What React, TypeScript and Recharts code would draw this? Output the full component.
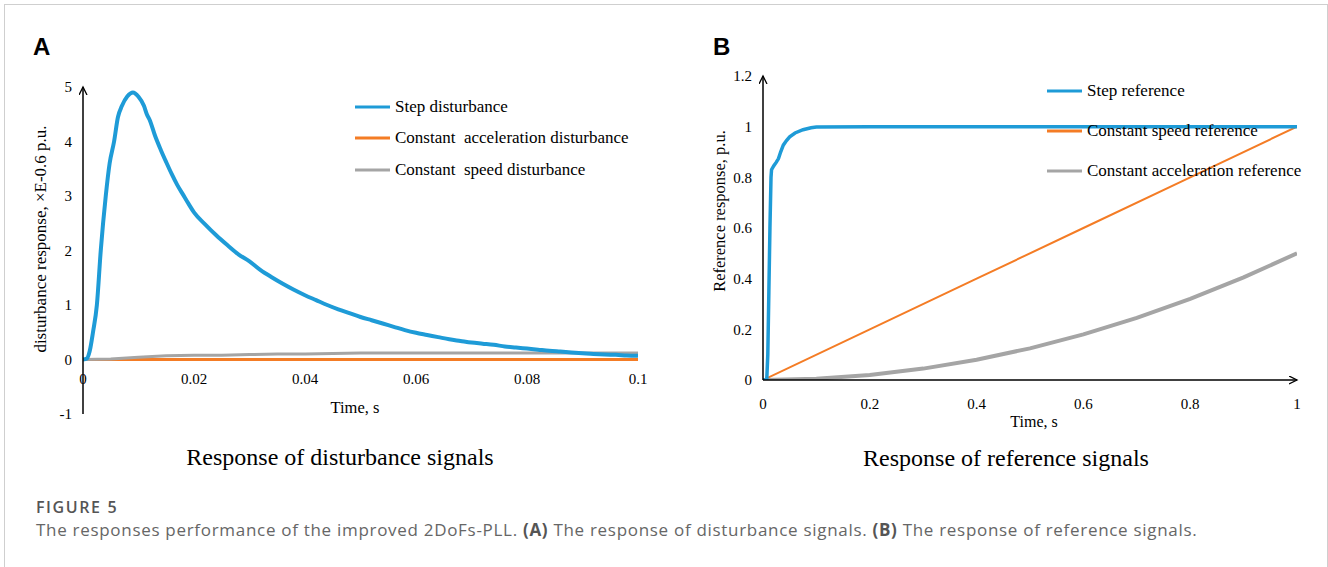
import React from 'react';
import { LineChart, Line, XAxis, YAxis, Legend } from 'recharts';

// Panel A: disturbance responses (x: time in s, y: ×E-0.6 p.u.)
const stepDistTime = [
  0, 0.0007, 0.0012, 0.0018, 0.0025, 0.0032, 0.0041, 0.0048, 0.0056, 0.0063, 0.007, 0.008, 0.009,
  0.01, 0.011, 0.0115, 0.012, 0.013, 0.014, 0.015, 0.016, 0.017, 0.018, 0.019, 0.02,
  0.022, 0.024, 0.026, 0.028, 0.03, 0.032, 0.034, 0.036, 0.038, 0.04, 0.042, 0.044, 0.046, 0.048, 0.05,
  0.052, 0.054, 0.056, 0.058, 0.06, 0.062, 0.064, 0.066, 0.068, 0.07, 0.072, 0.074, 0.076, 0.078, 0.08,
  0.082, 0.084, 0.086, 0.088, 0.09, 0.092, 0.094, 0.096, 0.098, 0.1,
];
const stepDisturbance = [
  0, 0.02, 0.15, 0.5, 1.0, 2.0, 3.0, 3.6, 4.0, 4.45, 4.65, 4.83, 4.9,
  4.82, 4.65, 4.5, 4.4, 4.1, 3.85, 3.62, 3.4, 3.2, 3.03, 2.86, 2.7,
  2.48, 2.28, 2.1, 1.93, 1.8, 1.64, 1.51, 1.39, 1.28, 1.18, 1.09, 1.0, 0.92, 0.85, 0.78,
  0.72, 0.66, 0.6, 0.54, 0.49, 0.45, 0.41, 0.37, 0.34, 0.31, 0.29, 0.27, 0.24, 0.22, 0.2,
  0.18, 0.16, 0.145, 0.13, 0.115, 0.1, 0.09, 0.085, 0.075, 0.07,
];
const accelDistTime = [0, 0.1];
const accelDisturbance = [0, 0];
const speedDistTime = [0, 0.005, 0.01, 0.015, 0.02, 0.025, 0.03, 0.035, 0.04, 0.045, 0.05, 0.06, 0.07, 0.08, 0.09, 0.1];
const speedDisturbance = [0, 0.01, 0.04, 0.07, 0.08, 0.08, 0.09, 0.1, 0.1, 0.11, 0.12, 0.12, 0.12, 0.12, 0.12, 0.12];
const distXTicks = [0, 0.02, 0.04, 0.06, 0.08, 0.1];
const distYTicks = [-1, 0, 1, 2, 3, 4, 5];
const distLegendOrder = ['Step disturbance', 'Constant  acceleration disturbance', 'Constant  speed disturbance'];

// Panel B: reference responses (x: time in s, y: p.u.)
const stepRefTime = [
  0, 0.007, 0.009, 0.011, 0.013, 0.015, 0.016, 0.02, 0.025, 0.029, 0.033, 0.038, 0.044, 0.05, 0.06,
  0.075, 0.09, 0.1, 0.2, 0.4, 0.6, 0.8, 1,
];
const stepReference = [
  0, 0, 0.1, 0.35, 0.6, 0.8, 0.83, 0.845, 0.86, 0.874, 0.9, 0.927, 0.945, 0.96, 0.975,
  0.988, 0.996, 0.999, 1, 1, 1, 1, 1,
];
const speedRefTime = [0, 0.2, 0.4, 0.6, 0.8, 1];
const speedReference = [0, 0.2, 0.4, 0.6, 0.8, 1];
const accelRefTime = [0, 0.1, 0.2, 0.3, 0.4, 0.5, 0.6, 0.7, 0.8, 0.9, 1];
const accelReference = [0, 0.005, 0.02, 0.045, 0.08, 0.125, 0.18, 0.245, 0.32, 0.405, 0.5];
const refXTicks = [0, 0.2, 0.4, 0.6, 0.8, 1];
const refYTicks = [0, 0.2, 0.4, 0.6, 0.8, 1, 1.2];
const refLegendOrder = ['Step reference', 'Constant speed reference', 'Constant acceleration reference'];

const BLUE = '#1e9bd7';
const ORANGE = '#f47c25';
const GRAY = '#a5a5a5';
const SERIF = '"Liberation Serif", "Times New Roman", serif';
const SANS = '"Liberation Sans", Arial, sans-serif';
const CAPTION = '"Open Sans", "Noto Sans", sans-serif';

const toPoints = (t: number[], v: number[]) => t.map((x, i) => ({ t: x, v: v[i] }));

const tickStyle = { fill: '#000', fontSize: 15, fontFamily: SERIF };

// x labels of panel A sit just under the zero line, not under the plot
const ZeroLineTick = (props: any) => {
  const { x, y, payload } = props;
  return (
    <text x={x} y={y - 30} textAnchor="middle" fill="#000" fontSize={15} fontFamily={SERIF}>
      {payload.value}
    </text>
  );
};

const LegendBox = ({ payload, rowHeight, order }: { payload?: any[]; rowHeight: number; order: string[] }) => {
  const items = [...(payload || [])].sort((a, b) => order.indexOf(a.value) - order.indexOf(b.value));
  return (
    <div style={{ fontFamily: SERIF, fontSize: 17, color: '#000' }}>
      {items.map((p) => (
        <div key={p.value} style={{ display: 'flex', alignItems: 'center', height: rowHeight }}>
          <svg width={35} height={4} style={{ flex: 'none' }}>
            <line x1={0} y1={2} x2={35} y2={2} stroke={p.color} strokeWidth={3} />
          </svg>
          <span style={{ marginLeft: 5, whiteSpace: 'pre' }}>{p.value}</span>
        </div>
      ))}
    </div>
  );
};

const ArrowDefs = ({ id }: { id: string }) => (
  <defs>
    <marker id={id} markerWidth={10} markerHeight={10} refX={8} refY={4} orient="auto-start-reverse" markerUnits="userSpaceOnUse">
      <path d="M0,0 L8,4 L0,8" fill="none" stroke="#000" strokeWidth={1.3} />
    </marker>
  </defs>
);

const DisturbanceChart = () => (
  <LineChart width={680} height={444} margin={{ top: 87, right: 42, left: 0, bottom: 0 }}>
    <ArrowDefs id="arrowA" />
    <XAxis
      type="number"
      dataKey="t"
      domain={[0, 0.1]}
      ticks={distXTicks}
      interval={0}
      height={30}
      axisLine={false}
      tickLine={false}
      tickSize={0}
      tickMargin={0}
      tick={<ZeroLineTick />}
      allowDataOverflow
    />
    <YAxis
      type="number"
      domain={[-1, 5]}
      ticks={distYTicks}
      interval={0}
      width={83}
      tickLine={false}
      tickSize={6}
      tickMargin={5}
      axisLine={{ stroke: '#000', strokeWidth: 1.5, markerStart: 'url(#arrowA)' }}
      tick={tickStyle}
      allowDataOverflow
    />
    <Legend
      layout="vertical"
      align="center"
      verticalAlign="middle"
      wrapperStyle={{ left: 355, top: 91, width: 300 }}
      content={(p: any) => <LegendBox payload={p.payload} rowHeight={31.5} order={distLegendOrder} />}
    />
    <Line data={toPoints(accelDistTime, accelDisturbance)} dataKey="v" name="Constant  acceleration disturbance" stroke={ORANGE} strokeWidth={3} dot={false} type="linear" isAnimationActive={false} />
    <Line data={toPoints(speedDistTime, speedDisturbance)} dataKey="v" name="Constant  speed disturbance" stroke={GRAY} strokeWidth={3} dot={false} type="linear" isAnimationActive={false} />
    <Line data={toPoints(stepDistTime, stepDisturbance)} dataKey="v" name="Step disturbance" stroke={BLUE} strokeWidth={4} dot={false} type="monotone" isAnimationActive={false} />
  </LineChart>
);

const ReferenceChart = () => (
  <LineChart width={648} height={420} margin={{ top: 76, right: 31, left: 0, bottom: 0 }}>
    <ArrowDefs id="arrowB" />
    <XAxis
      type="number"
      dataKey="t"
      domain={[0, 1]}
      ticks={refXTicks}
      interval={0}
      height={40}
      tickLine={false}
      tickSize={6}
      tickMargin={12}
      axisLine={{ stroke: '#000', strokeWidth: 1.5, markerEnd: 'url(#arrowB)' }}
      tick={tickStyle}
      allowDataOverflow
    />
    <YAxis
      type="number"
      domain={[0, 1.2]}
      ticks={refYTicks}
      interval={0}
      width={83}
      tickLine={false}
      tickSize={6}
      tickMargin={5}
      axisLine={{ stroke: '#000', strokeWidth: 1.5, markerStart: 'url(#arrowB)' }}
      tick={tickStyle}
      allowDataOverflow
    />
    <Legend
      layout="vertical"
      align="center"
      verticalAlign="middle"
      wrapperStyle={{ left: 367, top: 71, width: 280 }}
      content={(p: any) => <LegendBox payload={p.payload} rowHeight={40} order={refLegendOrder} />}
    />
    <Line data={toPoints(speedRefTime, speedReference)} dataKey="v" name="Constant speed reference" stroke={ORANGE} strokeWidth={2} dot={false} type="linear" isAnimationActive={false} />
    <Line data={toPoints(accelRefTime, accelReference)} dataKey="v" name="Constant acceleration reference" stroke={GRAY} strokeWidth={4} dot={false} type="linear" isAnimationActive={false} />
    <Line data={toPoints(stepRefTime, stepReference)} dataKey="v" name="Step reference" stroke={BLUE} strokeWidth={3.5} dot={false} type="linear" isAnimationActive={false} />
  </LineChart>
);

export default function App() {
  return (
    <div style={{ position: 'absolute', left: 0, top: 0, width: 1328, height: 567, background: '#fff', overflow: 'hidden' }}>
      <div
        style={{
          position: 'absolute', left: 4, top: 4, width: 1324, height: 600, boxSizing: 'border-box',
          borderTop: '1px solid #cfcfcf', borderLeft: '1px solid #cfcfcf', borderRight: '1px solid #cfcfcf',
        }}
      />
      <div style={{ position: 'absolute', left: 0, top: 0 }}>
        <DisturbanceChart />
      </div>
      <div style={{ position: 'absolute', left: 680, top: 0 }}>
        <ReferenceChart />
      </div>
      <svg width={1328} height={567} style={{ position: 'absolute', left: 0, top: 0, pointerEvents: 'none' }}>
        <text x={33} y={55} fontFamily={SANS} fontWeight="bold" fontSize={24} fill="#000">A</text>
        <text x={713} y={55} fontFamily={SANS} fontWeight="bold" fontSize={24} fill="#000">B</text>
        <text transform="translate(46,239) rotate(-90)" textAnchor="middle" fontFamily={SERIF} fontSize={17} fill="#000">
          disturbance response, ×E-0.6 p.u.
        </text>
        <text transform="translate(725,211) rotate(-90)" textAnchor="middle" fontFamily={SERIF} fontSize={16.5} fill="#000">
          Reference response, p.u.
        </text>
        <text x={355} y={413} textAnchor="middle" fontFamily={SERIF} fontSize={16.5} fill="#000">Time, s</text>
        <text x={1034} y={427} textAnchor="middle" fontFamily={SERIF} fontSize={16} fill="#000">Time, s</text>
        <text x={340} y={465} textAnchor="middle" fontFamily={SERIF} fontSize={24} fill="#000">Response of disturbance signals</text>
        <text x={1006} y={466} textAnchor="middle" fontFamily={SERIF} fontSize={24} fill="#000">Response of reference signals</text>
        <text x={36} y={513} fontFamily={CAPTION} fontWeight={600} fontSize={16} letterSpacing={1.6} fill="#555">FIGURE 5</text>
        <text x={36} y={536} fontFamily={CAPTION} fontSize={17} letterSpacing={0.7} fill="#666">
          The responses performance of the improved 2DoFs-PLL. <tspan fontWeight="bold" fill="#555">(A)</tspan> The response of disturbance signals. <tspan fontWeight="bold" fill="#555">(B)</tspan> The response of reference signals.
        </text>
      </svg>
    </div>
  );
}
